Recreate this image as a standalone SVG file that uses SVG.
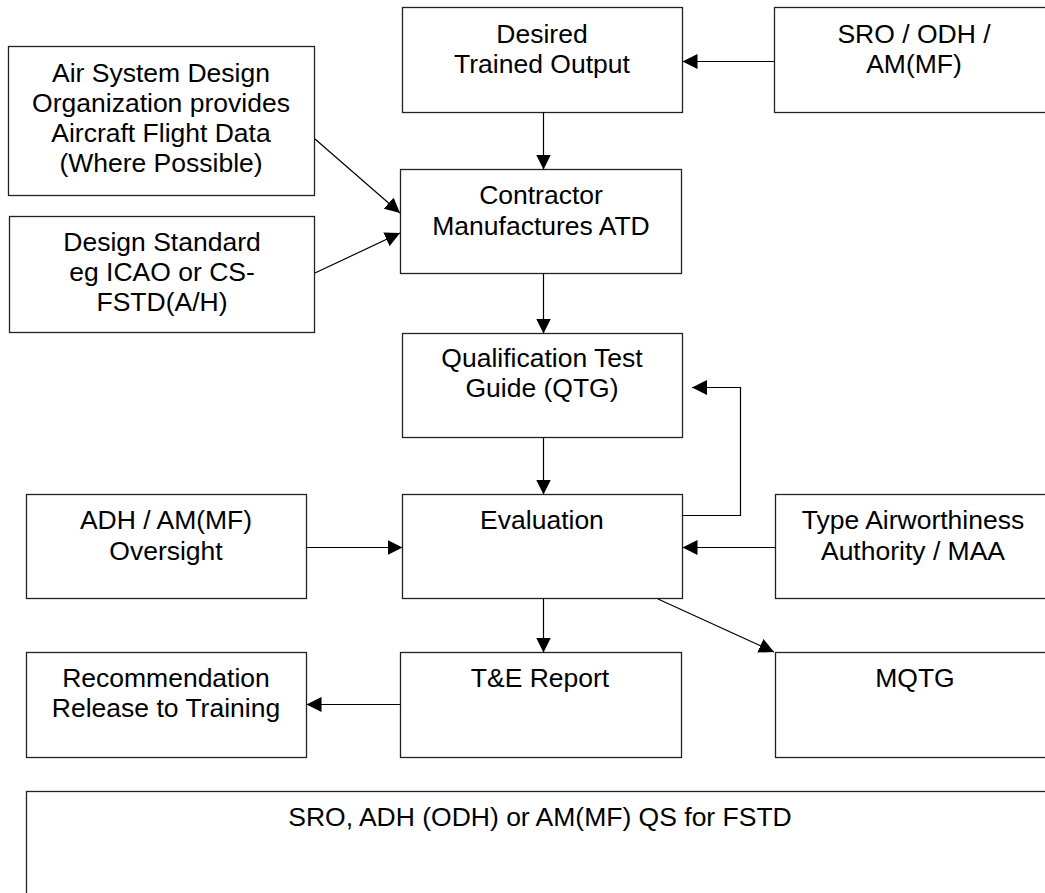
<svg xmlns="http://www.w3.org/2000/svg" width="1045" height="893" viewBox="0 0 1045 893">
<style>
.box{fill:#fff;stroke:#222;stroke-width:1.3}
.t{font-family:"Liberation Sans",Arial,sans-serif;font-size:26.5px;fill:#000;text-anchor:middle}
.c{fill:none;stroke:#000;stroke-width:1.2;marker-end:url(#ah)}
</style>
<defs>
<marker id="ah" markerUnits="userSpaceOnUse" markerWidth="15" markerHeight="15" refX="15" refY="7.5" orient="auto" viewBox="0 0 15 15">
<path d="M0,0 L15,7.5 L0,15 z" fill="#000"/>
</marker>
</defs>
<rect width="1045" height="893" fill="#fff"/>
<g id="air">
<rect class="box" x="8.5" y="46.5" width="306" height="149"/>
<text class="t" x="161" y="82">Air System Design</text>
<text class="t" x="161" y="112">Organization provides</text>
<text class="t" x="161" y="142">Aircraft Flight Data</text>
<text class="t" x="161" y="172">(Where Possible)</text>
</g>
<g id="design">
<rect class="box" x="9.5" y="216.5" width="305" height="116"/>
<text class="t" x="162" y="251">Design Standard</text>
<text class="t" x="162" y="281">eg ICAO or CS-</text>
<text class="t" x="162" y="311">FSTD(A/H)</text>
</g>
<g id="desired">
<rect class="box" x="402.5" y="7.5" width="280" height="105"/>
<text class="t" x="542" y="43">Desired</text>
<text class="t" x="542" y="73">Trained Output</text>
</g>
<g id="sro">
<rect class="box" x="774.5" y="7.5" width="290" height="105"/>
<text class="t" x="914" y="43">SRO / ODH /</text>
<text class="t" x="914" y="73">AM(MF)</text>
</g>
<g id="contractor">
<rect class="box" x="400.5" y="169.5" width="281" height="104"/>
<text class="t" x="541" y="204">Contractor</text>
<text class="t" x="541" y="235">Manufactures ATD</text>
</g>
<g id="qtg">
<rect class="box" x="402.5" y="333.5" width="280" height="104"/>
<text class="t" x="542" y="367">Qualification Test</text>
<text class="t" x="542" y="397">Guide (QTG)</text>
</g>
<g id="eval">
<rect class="box" x="402.5" y="494.5" width="280" height="104"/>
<text class="t" x="542" y="529">Evaluation</text>
</g>
<g id="adh">
<rect class="box" x="26.5" y="494.5" width="280" height="104"/>
<text class="t" x="166" y="529">ADH / AM(MF)</text>
<text class="t" x="166" y="560">Oversight</text>
</g>
<g id="taa">
<rect class="box" x="775.5" y="494.5" width="290" height="104"/>
<text class="t" x="913" y="529">Type Airworthiness</text>
<text class="t" x="913" y="560">Authority / MAA</text>
</g>
<g id="rec">
<rect class="box" x="26.5" y="652.5" width="280" height="105"/>
<text class="t" x="166" y="687">Recommendation</text>
<text class="t" x="166" y="717">Release to Training</text>
</g>
<g id="te">
<rect class="box" x="400.5" y="652.5" width="281" height="105"/>
<text class="t" x="540" y="687">T&amp;E Report</text>
</g>
<g id="mqtg">
<rect class="box" x="775.5" y="652.5" width="290" height="105"/>
<text class="t" x="915" y="687">MQTG</text>
</g>
<g id="qs">
<rect class="box" x="26.5" y="791.5" width="1040" height="130"/>
<text class="t" x="540" y="826">SRO, ADH (ODH) or AM(MF) QS for FSTD</text>
</g>
<g id="connectors">
<path class="c" d="M774.5,61.5 H682.5"/>
<path class="c" d="M543.5,112.5 V169.5"/>
<path class="c" d="M315,139 L400,213"/>
<path class="c" d="M315,273 L400,233"/>
<path class="c" d="M543.5,273.5 V333.5"/>
<path class="c" d="M543.5,437.5 V494.5"/>
<path class="c" d="M682.5,515.5 H740.5 V387.5 H692"/>
<path class="c" d="M306.5,547.5 H402.5"/>
<path class="c" d="M775.5,547.5 H682.5"/>
<path class="c" d="M543.5,598.5 V652.5"/>
<path class="c" d="M658,599 L774,652"/>
<path class="c" d="M400.5,704.5 H306.5"/>
</g>
</svg>
